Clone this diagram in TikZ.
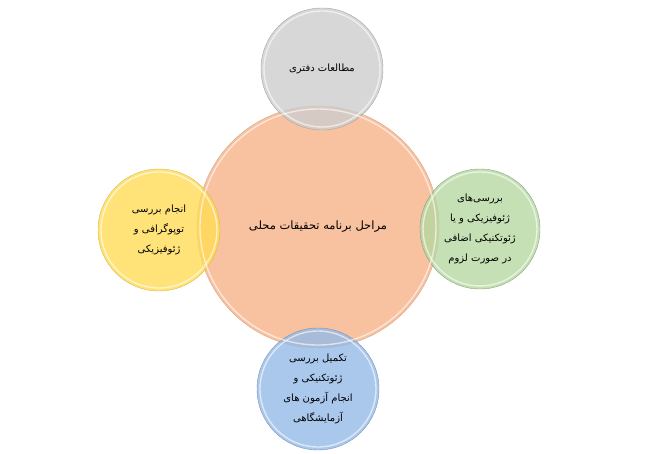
\documentclass[tikz,border=0pt]{standalone}
\usepackage{fontspec}
\newfontfamily\arabicfont[Script=Arabic]{DejaVu Sans}
\TeXXeTstate=1
\newcommand{\fa}[1]{\beginR #1\endR}
\definecolor{peach}{RGB}{248,194,160}
\definecolor{greyfill}{RGB}{205,205,205}
\definecolor{yellowfill}{RGB}{255,219,86}
\definecolor{greenfill}{RGB}{182,216,161}
\definecolor{bluefill}{RGB}{149,186,231}
\tikzset{
  bubble/.style={circle, inner sep=0pt, align=center, fill opacity=0.8, text opacity=1,
    font=\arabicfont\fontsize{10}{20}\selectfont},
  ring/.style={white, opacity=0.6, line width=1.4pt}
}
\begin{document}
\begin{tikzpicture}[x=1pt,y=-1pt]
\useasboundingbox (0,0) rectangle (650,454);
% central circle
\node [bubble, minimum size=242pt, fill=peach, fill opacity=1, draw=peach!85!black, line width=0.4pt,
  font=\arabicfont\fontsize{11.5}{20}\selectfont] (main) at (318,227) {\fa{مراحل برنامه تحقیقات محلی}};
% satellites
\node [bubble, minimum size=122pt, fill=greyfill, draw=greyfill!80!black, line width=0.4pt] (desk) at (322,69) {\fa{مطالعات دفتری}};
\node [bubble, minimum size=122pt, fill=yellowfill, draw=yellowfill!85!black, line width=0.4pt] (topo) at (159,230) {\fa{انجام بررسی}\\ \fa{توپوگرافی و}\\ \fa{ژئوفیزیکی}};
\node [bubble, minimum size=120pt, fill=greenfill, draw=greenfill!75!black, line width=0.4pt] (extra) at (480,229) {\fa{بررسی‌های}\\ \fa{ژئوفیزیکی و یا}\\ \fa{ژئوتکنیکی اضافی}\\ \fa{در صورت لزوم}};
\node [bubble, minimum size=122pt, fill=bluefill, draw=bluefill!80!black, line width=0.4pt] (lab) at (318,389) {\fa{تکمیل بررسی}\\ \fa{ژئوتکنیکی و}\\ \fa{انجام آزمون های}\\ \fa{آزمایشگاهی}};
% glass rims
\foreach \n/\r in {main/121,desk/61,topo/61,extra/60,lab/61}
  \draw [ring] (\n.center) circle ({\r-3});
\end{tikzpicture}
\end{document}
